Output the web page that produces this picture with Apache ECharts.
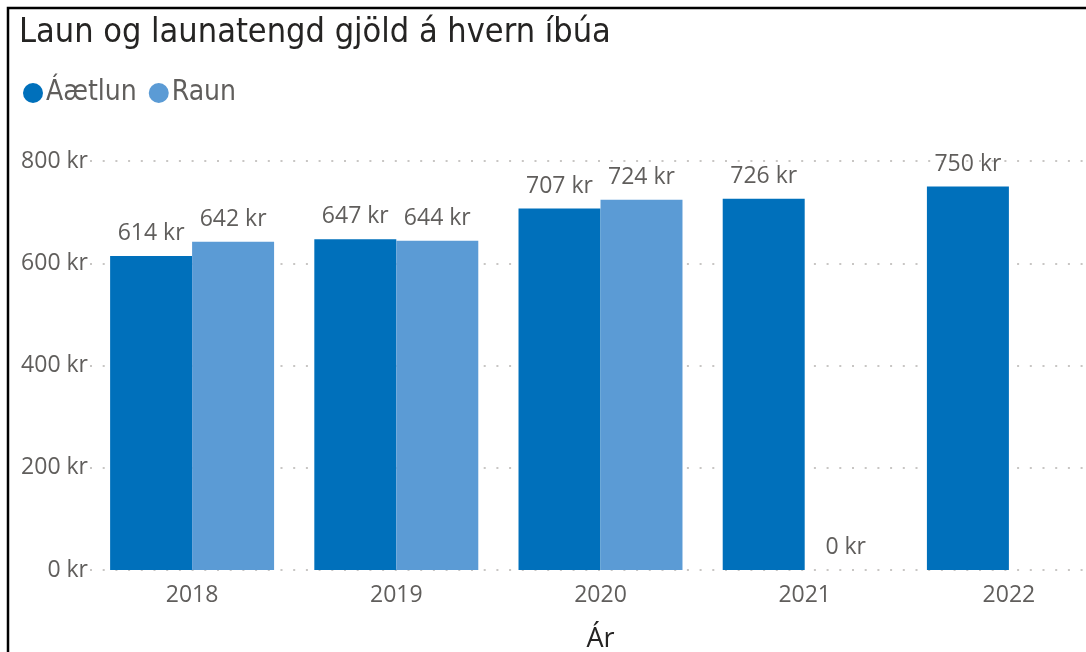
<!DOCTYPE html>
<html>
<head>
<meta charset="utf-8">
<script src="https://cdn.jsdelivr.net/npm/echarts@6/dist/echarts.min.js"></script>
<style>
  html, body { margin: 0; padding: 0; background: #fff; }
  #chart { width: 1086px; height: 652px; }
</style>
</head>
<body>
<div id="chart"></div>
<script>
const years = ['2018', '2019', '2020', '2021', '2022'];
const aaetlun = [614, 647, 707, 726, 750];
const raun = [642, 644, 724, 0, null];
const yTicks = { min: 0, max: 800, interval: 200 };

const myChart = echarts.init(document.getElementById('chart'));

const labelFont = "'Open Sans', sans-serif";
const dinFont = "'DejaVu Sans Condensed', 'DejaVu Sans', sans-serif";

const barLabel = {
  show: true,
  position: 'top',
  distance: 11,
  color: '#605E5C',
  fontFamily: labelFont,
  fontSize: 23,
  formatter: (p) => p.value + ' kr'
};

const option = {
  animation: false,
  backgroundColor: '#fff',
  title: {
    text: 'Laun og launatengd gjöld á hvern íbúa',
    left: 14,
    top: 11,
    textStyle: {
      fontFamily: dinFont,
      fontSize: 34,
      fontWeight: 'normal',
      color: '#252423'
    }
  },
  legend: {
    left: 18,
    top: 74,
    icon: 'circle',
    itemWidth: 20,
    itemHeight: 20,
    itemGap: 12,
    textStyle: {
      fontFamily: dinFont,
      fontSize: 28,
      color: '#605E5C',
      padding: [0, 0, 0, -2]
    }
  },
  graphic: [
    {
      type: 'polyline',
      shape: { points: [[8, 652], [8, 8], [1086, 8]] },
      style: { stroke: '#000', lineWidth: 2.5, fill: null }
    }
  ],
  grid: {
    left: 90,
    top: 161,
    width: 1021,
    bottom: 82,
    outerBoundsMode: 'none'
  },
  xAxis: {
    type: 'category',
    data: years,
    name: 'Ár',
    nameLocation: 'middle',
    nameGap: 56,
    nameTextStyle: { fontFamily: labelFont, fontSize: 27, color: '#252423' },
    axisLine: { show: false },
    axisTick: { show: false },
    axisLabel: { margin: 14, fontFamily: labelFont, fontSize: 23, color: '#605E5C' }
  },
  yAxis: {
    type: 'value',
    min: yTicks.min,
    max: yTicks.max,
    interval: yTicks.interval,
    axisLine: { show: false },
    axisTick: { show: false },
    axisLabel: {
      margin: 2,
      fontFamily: labelFont,
      fontSize: 23,
      color: '#605E5C',
      formatter: '{value} kr'
    },
    splitLine: {
      lineStyle: { color: '#C8C6C4', width: 2, type: [2, 10.7] }
    }
  },
  series: [
    {
      name: 'Áætlun',
      type: 'bar',
      data: aaetlun,
      barGap: '0%',
      barCategoryGap: '19.7%',
      itemStyle: { color: '#0070BB' },
      label: barLabel
    },
    {
      name: 'Raun',
      type: 'bar',
      data: raun,
      itemStyle: { color: '#5B9BD5' },
      label: barLabel
    }
  ]
};

myChart.setOption(option);
</script>
</body>
</html>
